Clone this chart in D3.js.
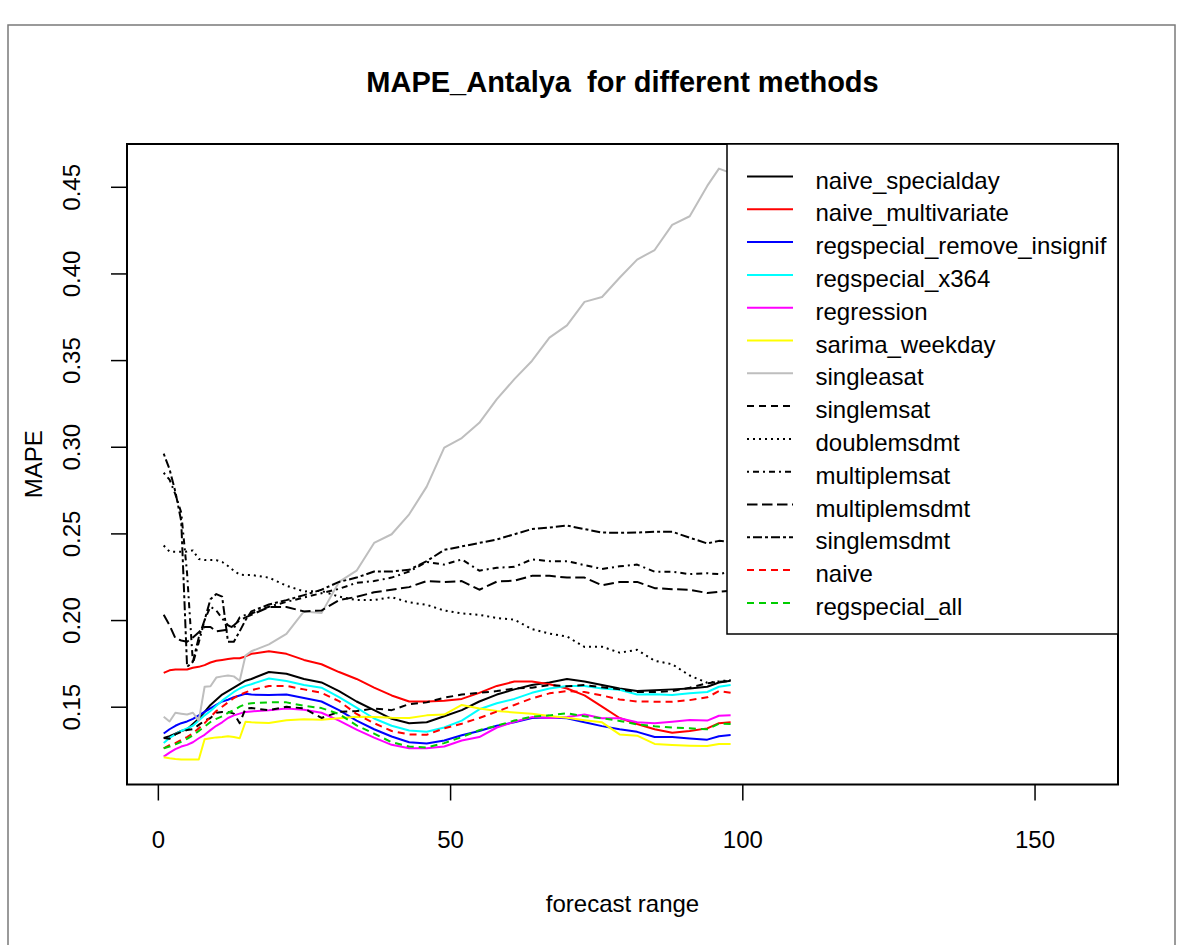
<!DOCTYPE html>
<html>
<head>
<meta charset="utf-8">
<script src="https://cdn.jsdelivr.net/npm/d3@7"></script>
<style>
  html, body { margin: 0; padding: 0; background: #ffffff; }
  svg { display: block; font-family: "Liberation Sans", Arial, sans-serif; }
</style>
</head>
<body>
<svg id="chart" width="1184" height="945"></svg>
<script>
// ---------------- data ----------------
const horizon = [1,2,3,4,5,6,7,8,9,10,11,12,13,14,15,16,19,22,25,28,31,34,37,40,43,46,49,52,55,58,61,64,67,70,73,76,79,82,85,88,91,94,96,98];

const naive_specialday = [0.132,0.133,0.1345,0.136,0.137,0.140,0.143,0.147,0.151,0.154,0.157,0.159,0.161,0.163,0.165,0.166,
  0.170,0.169,0.166,0.164,0.159,0.153,0.148,0.143,0.1405,0.141,0.1445,0.148,0.153,0.157,0.160,0.1625,0.164,0.166,0.1645,0.1625,0.1605,0.159,0.1595,0.160,0.1605,0.1615,
  0.164,0.165];
const naive_multivariate = [0.1695,0.171,0.1715,0.1715,0.1715,0.1725,0.173,0.174,0.1755,0.1765,0.177,0.1775,0.178,0.178,0.179,0.1805,
  0.182,0.1805,0.177,0.1745,0.170,0.166,0.161,0.1565,0.153,0.153,0.1535,0.1545,0.158,0.162,0.1645,0.1645,0.163,0.1605,0.1565,0.150,0.1435,0.140,0.137,0.135,0.136,0.1375,
  0.1405,0.141];
const regspecial_remove_insignif = [0.1345,0.137,0.139,0.1405,0.1415,0.143,0.145,0.147,0.149,0.151,0.153,0.154,0.1555,0.1565,0.1575,0.157,
  0.1567,0.157,0.155,0.153,0.148,0.142,0.137,0.1328,0.1295,0.1288,0.1305,0.1335,0.136,0.139,0.141,0.1435,0.1438,0.1433,0.141,0.1388,0.137,0.1355,0.1325,0.1325,0.1317,0.131,
  0.133,0.1337];
const regspecial_x364 = [0.129,0.132,0.134,0.136,0.1375,0.139,0.142,0.145,0.1475,0.1505,0.1535,0.156,0.1585,0.1605,0.162,0.163,
  0.1663,0.1648,0.1625,0.161,0.1555,0.1495,0.1432,0.139,0.1363,0.1356,0.138,0.142,0.1485,0.152,0.1545,0.158,0.1605,0.162,0.162,0.1605,0.1598,0.157,0.1572,0.1567,0.1577,0.1585,
  0.1615,0.1625];
const regression = [0.1212,0.1235,0.1255,0.127,0.128,0.1295,0.1318,0.1338,0.1365,0.139,0.141,0.1435,0.145,0.146,0.147,0.1473,
  0.1479,0.1489,0.1482,0.1465,0.142,0.1368,0.1322,0.128,0.126,0.126,0.127,0.1305,0.1325,0.138,0.1413,0.144,0.1435,0.144,0.1455,0.1433,0.1433,0.141,0.1404,0.1413,0.1423,0.142,
  0.1448,0.145];
const sarima_weekday = [0.1208,0.1202,0.1198,0.1196,0.1196,0.1196,0.1195,0.1312,0.1318,0.1323,0.1325,0.133,0.1325,0.1318,0.1413,0.141,
  0.1406,0.1422,0.1427,0.1425,0.1433,0.1442,0.144,0.1436,0.1435,0.145,0.1455,0.151,0.149,0.1475,0.1467,0.146,0.1446,0.1436,0.1422,0.141,0.134,0.1333,0.1285,0.1279,0.1275,0.1273,
  0.1285,0.1285];
const singleasat = [0.1442,0.1415,0.1465,0.146,0.1455,0.1465,0.142,0.1615,0.1618,0.1668,0.1675,0.168,0.1675,0.165,0.1795,0.182,
  0.186,0.192,0.205,0.204,0.222,0.2285,0.2445,0.2495,0.261,0.277,0.2995,0.305,0.3138,0.3275,0.339,0.3495,0.363,0.370,0.3836,0.3864,0.3975,0.408,0.4135,0.428,0.433,0.4505,
  0.4605,0.458];
const singlemsat = [0.132,0.1315,0.134,0.1355,0.1365,0.137,0.1395,0.142,0.1435,0.1465,0.147,0.147,0.146,0.1405,0.149,0.1492,
  0.148,0.150,0.149,0.1435,0.147,0.1475,0.149,0.148,0.1515,0.1525,0.1552,0.157,0.158,0.159,0.1605,0.161,0.1625,0.1618,0.1625,0.1612,0.160,0.1585,0.1585,0.159,0.161,0.1635,
  0.1644,0.1648];
const doublemsdmt = [0.243,0.2395,0.2394,0.2394,0.2395,0.2402,0.2352,0.2346,0.2346,0.2346,0.2335,0.2312,0.2285,0.2262,0.226,0.226,
  0.2245,0.2198,0.2165,0.2168,0.2135,0.2115,0.2115,0.2132,0.2102,0.2088,0.2055,0.2038,0.203,0.2012,0.2002,0.1948,0.1922,0.1905,0.1845,0.1846,0.1812,0.1828,0.1765,0.1745,0.168,0.1638,
  0.1646,0.1654];
const multiplemsat = [0.285,0.281,0.2725,0.262,0.227,0.175,0.187,0.200,0.2077,0.2055,0.201,0.197,0.1952,0.2015,0.203,0.2038,
  0.2077,0.2105,0.213,0.2155,0.218,0.2215,0.2225,0.2245,0.228,0.2335,0.232,0.235,0.2285,0.2302,0.2307,0.235,0.234,0.234,0.2317,0.2295,0.231,0.232,0.2279,0.2279,0.2265,0.227,
  0.2265,0.2279];
const multiplemsdmt = [0.203,0.197,0.1895,0.1882,0.1875,0.190,0.193,0.196,0.196,0.1935,0.194,0.1945,0.197,0.200,0.2015,0.203,
  0.2075,0.2075,0.205,0.2055,0.2115,0.2134,0.216,0.2175,0.219,0.2225,0.222,0.2225,0.2175,0.2222,0.2227,0.2255,0.2255,0.2245,0.2245,0.220,0.222,0.222,0.2184,0.2178,0.2175,0.2156,
  0.2163,0.2169];
const singlemsdmt = [0.296,0.287,0.274,0.257,0.173,0.176,0.190,0.200,0.212,0.215,0.2135,0.1875,0.1875,0.1935,0.200,0.205,
  0.209,0.2115,0.2144,0.2175,0.222,0.2245,0.228,0.228,0.229,0.234,0.2405,0.2425,0.2445,0.2465,0.2495,0.2525,0.2534,0.2545,0.2525,0.2505,0.2503,0.2505,0.251,0.251,0.2475,0.2442,
  0.2457,0.2452];
const naive = [0.126,0.1278,0.129,0.1308,0.1325,0.1347,0.1375,0.1405,0.144,0.1475,0.150,0.1525,0.155,0.1568,0.1583,0.1595,
  0.162,0.162,0.160,0.158,0.1532,0.1458,0.1405,0.136,0.134,0.1338,0.1375,0.1402,0.1435,0.1472,0.151,0.1548,0.1577,0.159,0.1585,0.1565,0.1542,0.153,0.1529,0.1529,0.1538,0.1554,
  0.159,0.158];
const regspecial_all = [0.126,0.127,0.1283,0.1298,0.1315,0.1335,0.136,0.1385,0.1412,0.143,0.1445,0.1465,0.148,0.150,0.1515,0.152,
  0.1525,0.1525,0.1505,0.1492,0.1458,0.1392,0.1345,0.1295,0.127,0.1265,0.129,0.1325,0.1365,0.139,0.142,0.1442,0.145,0.1462,0.1445,0.1433,0.1418,0.1398,0.1387,0.138,0.1375,0.137,
  0.1402,0.140];

const methodNames = ["naive_specialday","naive_multivariate","regspecial_remove_insignif","regspecial_x364",
  "regression","sarima_weekday","singleasat","singlemsat","doublemsdmt","multiplemsat","multiplemsdmt",
  "singlemsdmt","naive","regspecial_all"];
const methodValues = [naive_specialday, naive_multivariate, regspecial_remove_insignif, regspecial_x364,
  regression, sarima_weekday, singleasat, singlemsat, doublemsdmt, multiplemsat, multiplemsdmt,
  singlemsdmt, naive, regspecial_all];

const xTicks = [0, 50, 100, 150];
const yTicks = [0.15, 0.20, 0.25, 0.30, 0.35, 0.40, 0.45];
const xLimits = [1, 158];
const yLimits = [0.1188, 0.461];
const titleText = "MAPE_Antalya  for different methods";
const xLabel = "forecast range";
const yLabel = "MAPE";

// ---------------- styles ----------------
const colors = ["#000000","#FF0000","#0000FF","#00FFFF","#FF00FF","#FFFF00","#BEBEBE",
                "#000000","#000000","#000000","#000000","#000000","#FF0000","#00CD00"];
const dashes = [null,null,null,null,null,null,null,
                "7,5","2,4","2,4,6,4","10.5,4.5","3,3,9,3","7,5","7,5"];

// ---------------- layout ----------------
const W = 1184, H = 945;
const box = { left: 127, right: 1118, top: 144, bottom: 784.5 };
const svg = d3.select("#chart");
const FONT = 24;

svg.append("rect").attr("x", 0).attr("y", 0).attr("width", W).attr("height", H).attr("fill", "#fff");
// outer frame of the figure
svg.append("rect").attr("x", 8).attr("y", 25).attr("width", 1167).attr("height", 940)
  .attr("fill", "none").attr("stroke", "#7a7a7a").attr("stroke-width", 1.5);

function padded(lim) { const d = (lim[1] - lim[0]) * 0.04; return [lim[0] - d, lim[1] + d]; }

const x = d3.scaleLinear().domain(padded(xLimits)).range([box.left, box.right]);
const y = d3.scaleLinear().domain(padded(yLimits)).range([box.bottom, box.top]);

// series lines
const line = d3.line().x((d, i) => x(horizon[i])).y(d => y(d));
const gLines = svg.append("g");
methodValues.forEach((vals, k) => {
  gLines.append("path")
    .datum(vals)
    .attr("d", line)
    .attr("fill", "none")
    .attr("stroke", colors[k])
    .attr("stroke-width", 2)
    .attr("stroke-linejoin", "round")
    .attr("stroke-dasharray", dashes[k]);
});

// plot box
svg.append("rect")
  .attr("x", box.left).attr("y", box.top)
  .attr("width", box.right - box.left).attr("height", box.bottom - box.top)
  .attr("fill", "none").attr("stroke", "#000").attr("stroke-width", 2);

// x axis
const gx = svg.append("g").attr("transform", `translate(0,${box.bottom})`)
  .call(d3.axisBottom(x).tickValues(xTicks).tickSize(16).tickFormat(d3.format("d")));
gx.select(".domain").remove();
gx.selectAll(".tick line").attr("stroke", "#000").attr("stroke-width", 1.5);
gx.selectAll(".tick text").attr("y", 63.5).attr("dy", null)
  .attr("font-size", FONT).attr("font-family", "Liberation Sans, Arial, sans-serif").attr("fill", "#000");

// y axis
const gy = svg.append("g").attr("transform", `translate(${box.left},0)`)
  .call(d3.axisLeft(y).tickValues(yTicks).tickSize(16).tickFormat(d3.format(".2f")));
gy.select(".domain").remove();
gy.selectAll(".tick line").attr("stroke", "#000").attr("stroke-width", 1.5);
gy.selectAll(".tick text")
  .attr("x", 0).attr("dy", null).attr("y", -(box.left - 80))
  .attr("text-anchor", "middle").attr("transform", "rotate(-90)")
  .attr("font-size", FONT).attr("font-family", "Liberation Sans, Arial, sans-serif").attr("fill", "#000");

// title and axis labels
svg.append("text").attr("x", (box.left + box.right) / 2).attr("y", 92)
  .attr("text-anchor", "middle").attr("font-size", 29).attr("font-weight", "bold")
  .style("white-space", "pre").attr("xml:space", "preserve").text(titleText);
svg.append("text").attr("x", (box.left + box.right) / 2).attr("y", 912)
  .attr("text-anchor", "middle").attr("font-size", FONT).text(xLabel);
svg.append("text").attr("transform", `translate(42,${(box.top + box.bottom) / 2}) rotate(-90)`)
  .attr("text-anchor", "middle").attr("font-size", FONT).text(yLabel);

// legend
const leg = { left: 727, top: 144, right: 1118, bottom: 634 };
svg.append("rect").attr("x", leg.left).attr("y", leg.top)
  .attr("width", leg.right - leg.left).attr("height", leg.bottom - leg.top)
  .attr("fill", "#fff").attr("stroke", "#000").attr("stroke-width", 1.5);
const rowH = 32.8, row0 = 176.5;
const gLeg = svg.append("g");
methodNames.forEach((name, k) => {
  const yy = row0 + k * rowH;
  gLeg.append("line").attr("x1", 747).attr("x2", 793).attr("y1", yy).attr("y2", yy)
    .attr("stroke", colors[k]).attr("stroke-width", 2).attr("stroke-dasharray", dashes[k]);
  gLeg.append("text").attr("x", 815.5).attr("y", yy + 12).attr("font-size", FONT).text(name);
});
</script>
</body>
</html>
